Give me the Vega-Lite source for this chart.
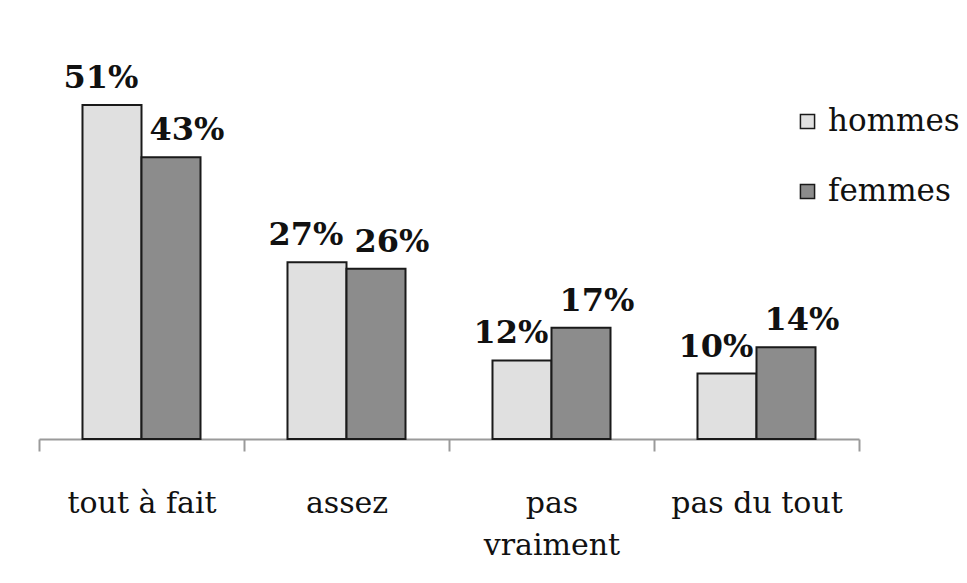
{
  "$schema": "https://vega.github.io/schema/vega-lite/v6.json",
  "width": 820,
  "height": 393,
  "autosize": {"type": "none"},
  "padding": {"left": 39, "top": 46, "right": 108, "bottom": 144},
  "background": "white",
  "config": {
    "view": {"stroke": null},
    "font": "DejaVu Serif"
  },
  "data": {
    "values": [
      {"reponse": "tout à fait", "sexe": "hommes", "part": 0.51},
      {"reponse": "tout à fait", "sexe": "femmes", "part": 0.43},
      {"reponse": "assez", "sexe": "hommes", "part": 0.27},
      {"reponse": "assez", "sexe": "femmes", "part": 0.26},
      {"reponse": "pas vraiment", "sexe": "hommes", "part": 0.12},
      {"reponse": "pas vraiment", "sexe": "femmes", "part": 0.17},
      {"reponse": "pas du tout", "sexe": "hommes", "part": 0.10},
      {"reponse": "pas du tout", "sexe": "femmes", "part": 0.14}
    ]
  },
  "encoding": {
    "x": {
      "field": "reponse",
      "type": "nominal",
      "sort": ["tout à fait", "assez", "pas vraiment", "pas du tout"],
      "scale": {"paddingInner": 0, "paddingOuter": 0},
      "axis": {
        "title": null,
        "labelAngle": 0,
        "labelFont": "DejaVu Serif",
        "labelFontSize": 30,
        "labelColor": "#111111",
        "labelPadding": 37,
        "labelLineHeight": 42,
        "labelExpr": "datum.label == 'pas vraiment' ? ['pas', 'vraiment'] : datum.label",
        "domainColor": "#9a9a9a",
        "domainWidth": 2,
        "tickColor": "#9a9a9a",
        "tickWidth": 2,
        "tickSize": 12,
        "tickBand": "extent",
        "grid": false
      }
    },
    "xOffset": {
      "field": "sexe",
      "type": "nominal",
      "sort": ["hommes", "femmes"],
      "scale": {"paddingInner": 0, "paddingOuter": 0.737}
    },
    "y": {
      "field": "part",
      "type": "quantitative",
      "scale": {"domain": [0, 0.6], "nice": false},
      "axis": null
    }
  },
  "layer": [
    {
      "mark": {"type": "bar", "stroke": "#1a1a1a", "strokeWidth": 2},
      "encoding": {
        "fill": {
          "field": "sexe",
          "type": "nominal",
          "sort": ["hommes", "femmes"],
          "scale": {"domain": ["hommes", "femmes"], "range": ["#e0e0e0", "#8c8c8c"]},
          "legend": {
            "title": null,
            "orient": "none",
            "legendX": 753,
            "legendY": 60,
            "symbolType": "square",
            "symbolSize": 200,
            "symbolStrokeColor": "#1a1a1a",
            "symbolStrokeWidth": 1.5,
            "labelFont": "DejaVu Serif",
            "labelFontSize": 31,
            "labelColor": "#111111",
            "labelOffset": 5,
            "rowPadding": 38
          }
        }
      }
    },
    {
      "transform": [{"filter": "datum.sexe == 'hommes'"}],
      "mark": {"type": "text", "baseline": "alphabetic", "dy": -17, "dx": -11, "fontSize": 32, "fontWeight": "bold", "font": "DejaVu Serif", "color": "#111111"},
      "encoding": {"text": {"field": "part", "type": "quantitative", "format": ".0%"}}
    },
    {
      "transform": [{"filter": "datum.sexe == 'femmes'"}],
      "mark": {"type": "text", "baseline": "alphabetic", "dy": -17, "dx": 16, "fontSize": 32, "fontWeight": "bold", "font": "DejaVu Serif", "color": "#111111"},
      "encoding": {"text": {"field": "part", "type": "quantitative", "format": ".0%"}}
    }
  ]
}
